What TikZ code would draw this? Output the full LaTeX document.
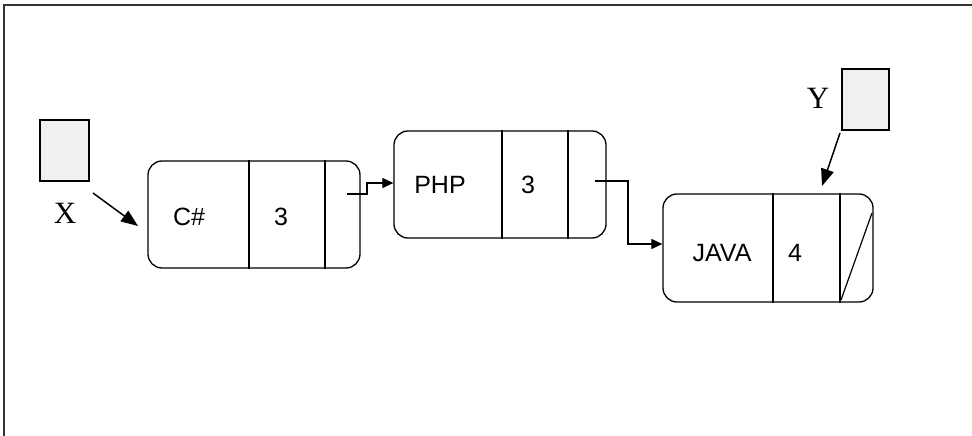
\documentclass[tikz,border=0pt]{standalone}
\usepackage{fontspec}
\setmainfont{Liberation Serif}
\setsansfont{Liberation Sans}
\usetikzlibrary{arrows.meta}
\tikzset{
  cell/.style={draw, line width=1.3pt, rounded corners=14pt, inner sep=0pt},
  divider/.style={line width=1.2pt},
  lbl/.style={font=\sffamily\fontsize{25}{27}\selectfont, inner sep=0pt},
  var/.style={font=\rmfamily\fontsize{31}{33}\selectfont, inner sep=0pt},
  vbox/.style={draw, line width=1.2pt, fill=gray!12, inner sep=0pt},
  link/.style={line width=1.2pt, -{Triangle[length=11pt,width=10pt]}},
  ptr/.style={line width=1.5pt, -{Triangle[length=17pt,width=13pt]}},
  frame/.style={line width=1.6pt, draw=black!80}
}
\begin{document}
\begin{tikzpicture}[x=1pt,y=-1pt]
\useasboundingbox (0,0) rectangle (972,436);
% frame
\draw[frame] (4,437) -- (4,5) -- (973,5);
% list cells
\node[cell, minimum width=212pt, minimum height=107pt] (n1) at (254,214.5) {};
\node[cell, minimum width=212pt, minimum height=107pt] (n2) at (500,184.5) {};
\node[cell, minimum width=210pt, minimum height=108pt] (n3) at (768,248) {};
% dividers
\draw[divider] (249,0 |- n1.north) -- (249,0 |- n1.south);
\draw[divider] (325,0 |- n1.north) -- (325,0 |- n1.south);
\draw[divider] (502,0 |- n2.north) -- (502,0 |- n2.south);
\draw[divider] (568,0 |- n2.north) -- (568,0 |- n2.south);
\draw[divider] (773,0 |- n3.north) -- (773,0 |- n3.south);
\draw[divider] (840,0 |- n3.north) -- (840,0 |- n3.south);
\draw[divider] (841,300) -- (872,213);
% texts
\node[lbl] (t1) at (189,217) {C\#};
\node[lbl] (t2) at (281,217) {3};
\node[lbl] (t3) at (440,185) {PHP};
\node[lbl] (t4) at (528,185) {3};
\node[lbl] (t5) at (722,253) {JAVA};
\node[lbl] (t6) at (795,253) {4};
% next pointers
\coordinate (p1) at (347,194);
\coordinate (p2) at (595,181);
\draw[link] (p1) -- (367,194) -- (367,183) -- (n2.west |- 0,183);
\draw[link] (p2) -- (628,181) -- (628,244) -- (n3.west |- 0,244);
% external pointers
\node[vbox, minimum width=49pt, minimum height=61pt] (bx) at (64.5,150.5) {};
\node[var] (X) at (65,213) {X};
\node[vbox, minimum width=47pt, minimum height=61pt] (by) at (865.5,99.5) {};
\node[var] (Y) at (818,98) {Y};
\coordinate (xs) at (93,193);
\coordinate (ys) at (840,133);
\draw[ptr] (xs) -- (138,226);
\draw[ptr] (ys) -- (822,186);
\end{tikzpicture}
\end{document}
